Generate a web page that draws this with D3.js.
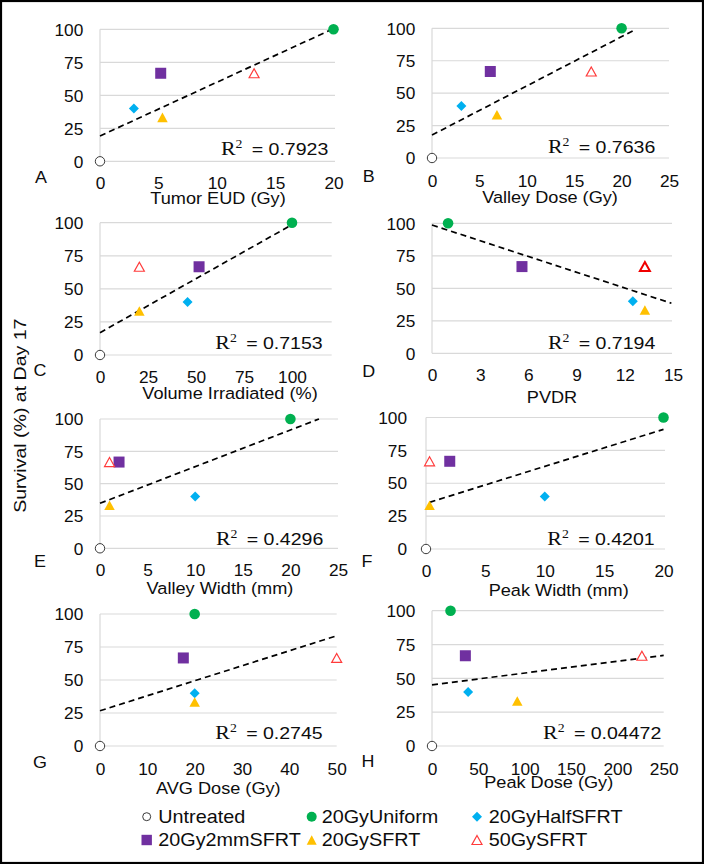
<!DOCTYPE html>
<html><head><meta charset="utf-8">
<script src="https://cdn.jsdelivr.net/npm/d3@7"></script>
<style>html,body{margin:0;padding:0;background:#fff;} svg{display:block;} text{white-space:pre;}</style>
</head><body>
<svg id="chart" width="704" height="864"></svg>
<script>
// ---------------- DATA ----------------
const groups = ["Untreated","20GyUniform","20GyHalfSFRT","20Gy2mmSFRT","20GySFRT","50GySFRT"];
const survival = [0, 100, 40, 66.7, 33.3, 66.7];
const tumorEUD = [0, 20, 2.9, 5.2, 5.35, 13.2];
const valleyDose = [0, 20, 3.1, 6.15, 6.85, 16.8];
const volumeIrradiated = [0, 100, 45.6, 51.6, 20.5, 20.5];
const pvdr = [null, 1, 12.5, 5.6, 13.25, 13.25];
const valleyWidth = [0, 20, 10, 2, 1, 1];
const peakWidth = [0, 20, 10, 2, 0.3, 0.3];
const avgDose = [0, 20, 20, 17.6, 20, 50];
const peakDose = [0, 20, 39, 36, 92, 226.5];

const panelLetters = ["A","B","C","D","E","F","G","H"];
const xTitles = ["Tumor EUD (Gy)","Valley Dose (Gy)","Volume Irradiated (%)","PVDR","Valley Width (mm)","Peak Width (mm)","AVG Dose (Gy)","Peak Dose (Gy)"];
const xTicks = [[0,5,10,15,20],[0,5,10,15,20,25],[0,25,50,75,100],[0,3,6,9,12,15],[0,5,10,15,20,25],[0,5,10,15,20],[0,10,20,30,40,50],[0,50,100,150,200,250]];
const xMax = [20,25,120,15,25,20,50,250];
const yTicks = [0,25,50,75,100];
const r2Values = ["0.7923","0.7636","0.7153","0.7194","0.4296","0.4201","0.2745","0.04472"];
const trendStart = [[0,19.2],[0,17.7],[0,16.9],[0,98.7],[0,34.8],[0.3,35.5],[0,26.7],[0,45.2]];
const trendEnd = [[20,100.5],[21.5,99.2],[100,98.5],[14.9,38.5],[23,100],[20,91],[50,83.5],[250,67]];
const yTitle = "Survival (%) at Day 17";

const xSeries = [tumorEUD, valleyDose, volumeIrradiated, pvdr, valleyWidth, peakWidth, avgDose, peakDose];

// ---------------- LAYOUT / STYLE ----------------
const layout = [
 {x0:100, x1:333.5, yTop:29.3, yBot:161.3, gridR:335, tickY:183.5, titleX:218, titleY:198.5, letter:[41,177], r2X:328.3, r2Y:155, yLabR:83.3},
 {x0:432, x1:669, yTop:28.3, yBot:158, gridR:669, tickY:181.5, titleX:550, titleY:196.7, letter:[368.7,175.8], r2X:655.3, r2Y:153.3, yLabR:415.3},
 {x0:100, x1:330.4, yTop:222.7, yBot:355, gridR:331.7, tickY:377.3, titleX:230, titleY:393.3, letter:[40,370.5], r2X:322.7, r2Y:349, yLabR:83.3},
 {x0:432, x1:673, yTop:223.3, yBot:353.3, gridR:672, tickY:375.5, titleX:552, titleY:397, letter:[368.7,371.5], r2X:655.3, r2Y:349, yLabR:415.3},
 {x0:100, x1:338, yTop:419, yBot:548.3, gridR:338, tickY:570.7, titleX:220, titleY:588.3, letter:[40,561.7], r2X:323.3, r2Y:545.3, yLabR:83.3},
 {x0:426, x1:663.5, yTop:417.5, yBot:549, gridR:665, tickY:571.7, titleX:558.7, titleY:590, letter:[367,561.7], r2X:654.7, r2Y:545.3, yLabR:407},
 {x0:100, x1:336.7, yTop:614, yBot:746, gridR:336.7, tickY:769.3, titleX:218.3, titleY:787.7, letter:[40,762.7], r2X:322.7, r2Y:739.3, yLabR:83.3},
 {x0:432, x1:663.7, yTop:610.7, yBot:746, gridR:663.7, tickY:769.3, titleX:548.7, titleY:781.7, letter:[368,761.7], r2X:661.3, r2Y:739, yLabR:415.3}
];

const SANS = "'Liberation Sans', Arial, Helvetica, sans-serif";
const SERIF = "'Liberation Serif', 'Times New Roman', serif";
const TXT = "#0d0d0d";
const GRID = "#d9d9d9";
const CAP = 0.358;
const TICK_FS = 16, TICK_SX = 1.08;

const seriesStyle = [
 {shape:"circle", r:4.7, fill:"#fff", stroke:"#3a3a3a", sw:1},
 {shape:"circle", r:5.3, fill:"#00B050"},
 {shape:"diamond", r:5, fill:"#00B0F0"},
 {shape:"square", r:5.5, fill:"#7030A0"},
 {shape:"triangle", w:10.5, h:9.6, fill:"#FFC000"},
 {shape:"triangle", w:10, h:9, fill:"#fff", stroke:"#FF3B3B", sw:1.2}
];
const legendStyle = [
 {shape:"circle", r:4, fill:"#fff", stroke:"#3a3a3a", sw:1},
 {shape:"circle", r:5, fill:"#00B050"},
 {shape:"diamond", r:5, fill:"#00B0F0"},
 {shape:"square", r:5.2, fill:"#7030A0"},
 {shape:"triangle", w:10, h:9.5, fill:"#FFC000"},
 {shape:"triangle", w:10, h:9, fill:"#fff", stroke:"#FF3B3B", sw:1.2}
];

const svg = d3.select("#chart");
svg.append("rect").attr("width",704).attr("height",864).attr("fill","#fff");

function addText(parent, x, y, content, o) {
  return parent.append("text")
    .attr("transform", `translate(${x},${y})` + (o.rotate ? ` rotate(${o.rotate})` : "") + ` scale(${o.sx||1},1)`)
    .attr("text-anchor", o.anchor || "start")
    .attr("font-family", o.family || SANS)
    .attr("font-size", o.size)
    .attr("fill", TXT)
    .text(content);
}

function drawMarker(parent, cx, cy, st, extra) {
  const sw = extra && extra.sw != null ? extra.sw : (st.sw || 0);
  const stroke = extra && extra.stroke ? extra.stroke : (st.stroke || "none");
  let el;
  if (st.shape === "circle") {
    el = parent.append("circle").attr("cx", cx).attr("cy", cy).attr("r", st.r);
  } else if (st.shape === "square") {
    el = parent.append("rect").attr("x", cx - st.r).attr("y", cy - st.r).attr("width", 2*st.r).attr("height", 2*st.r);
  } else if (st.shape === "diamond") {
    const h = st.r;
    el = parent.append("path").attr("d", `M${cx},${cy-h}L${cx+h},${cy}L${cx},${cy+h}L${cx-h},${cy}Z`);
  } else {
    const w = st.w/2, h = st.h/2;
    el = parent.append("path").attr("d", `M${cx},${cy-h}L${cx+w},${cy+h}L${cx-w},${cy+h}Z`);
  }
  el.attr("fill", st.fill).attr("stroke", stroke).attr("stroke-width", sw).attr("stroke-linejoin","miter");
}

xSeries.forEach((xs, i) => {
  const L = layout[i];
  const x = d3.scaleLinear().domain([0, xMax[i]]).range([L.x0, L.x1]);
  const y = d3.scaleLinear().domain([0, 100]).range([L.yBot, L.yTop]);
  const g = svg.append("g");

  // gridlines + vertical axis line
  g.selectAll("line.grid").data(yTicks).join("line").attr("class","grid")
    .attr("x1", L.x0).attr("x2", L.gridR)
    .attr("y1", d => y(d)).attr("y2", d => y(d))
    .attr("stroke", GRID).attr("stroke-width", 1.2);
  g.append("line").attr("x1", L.x0).attr("x2", L.x0).attr("y1", y(100)).attr("y2", y(0))
    .attr("stroke", GRID).attr("stroke-width", 1.2);

  // y tick labels
  const ya = g.append("g").attr("transform", `translate(${L.yLabR},0)`)
    .call(d3.axisLeft(y).tickValues(yTicks).tickSize(0).tickPadding(0));
  ya.select(".domain").remove();
  ya.attr("font-family", SANS).attr("font-size", TICK_FS);
  ya.selectAll("text").attr("x", 0).attr("dy", null).attr("y", TICK_FS*CAP)
    .attr("fill", TXT).attr("transform", `scale(${TICK_SX},1)`);

  // x tick labels
  const xa = g.append("g").attr("transform", `translate(0,${L.tickY})`)
    .call(d3.axisBottom(x).tickValues(xTicks[i]).tickSize(0).tickPadding(0));
  xa.select(".domain").remove();
  xa.attr("font-family", SANS).attr("font-size", TICK_FS);
  xa.selectAll("text").attr("dy", null).attr("y", TICK_FS*CAP)
    .attr("fill", TXT).attr("transform", `scale(${TICK_SX},1)`);

  // trend line
  g.append("line")
    .attr("x1", x(trendStart[i][0])).attr("y1", y(trendStart[i][1]))
    .attr("x2", x(trendEnd[i][0])).attr("y2", y(trendEnd[i][1]))
    .attr("stroke", "#000").attr("stroke-width", 1.7).attr("stroke-dasharray", "6,4");

  // points
  const pts = groups.map((name, k) => ({k, xv: xs[k], yv: survival[k]})).filter(d => d.xv != null);
  pts.forEach(d => {
    const extra = (d.k === 5 && panelLetters[i] === "D") ? {sw: 2, stroke: "#F00000"} : null;
    drawMarker(g, x(d.xv), y(d.yv), seriesStyle[d.k], extra);
  });

  // R^2 text
  const t = addText(g, L.r2X, L.r2Y, "", {size: 17, sx: 1.15, anchor: "end"});
  t.append("tspan").attr("font-family", SERIF).attr("font-size", 19).text("R");
  t.append("tspan").attr("font-family", SERIF).attr("font-size", 12).attr("dy", -7.5).text("2");
  t.append("tspan").attr("dy", 7.5).text("\u00A0\u2009= " + r2Values[i]);

  // panel letter
  addText(svg, L.letter[0], L.letter[1] + 16*CAP, panelLetters[i], {size: 16, sx: 1.12, anchor: "middle"});
  // x title
  addText(svg, L.titleX, L.titleY + 16.5*CAP, xTitles[i], {size: 16.5, sx: 1.1, anchor: "middle"});
});

// y axis title
addText(svg, 25.5, 415.7, yTitle, {size: 17, sx: 1.15, anchor: "middle", rotate: -90});

// legend
const legMarkerX = [146.7, 311.7, 477];
const legTextX = [158.3, 321.7, 488.7];
const legRowY = [816.7, 840];
groups.forEach((name, k) => {
  const col = k % 3, row = Math.floor(k / 3);
  drawMarker(svg, legMarkerX[col], legRowY[row], legendStyle[k]);
  addText(svg, legTextX[col], legRowY[row] + 18*CAP, name, {size: 18, sx: 1.1, anchor: "start"});
});

// outer frame
svg.append("rect").attr("x",1).attr("y",1).attr("width",702).attr("height",862)
  .attr("fill","none").attr("stroke","#000").attr("stroke-width",2.2);
</script>
</body></html>
